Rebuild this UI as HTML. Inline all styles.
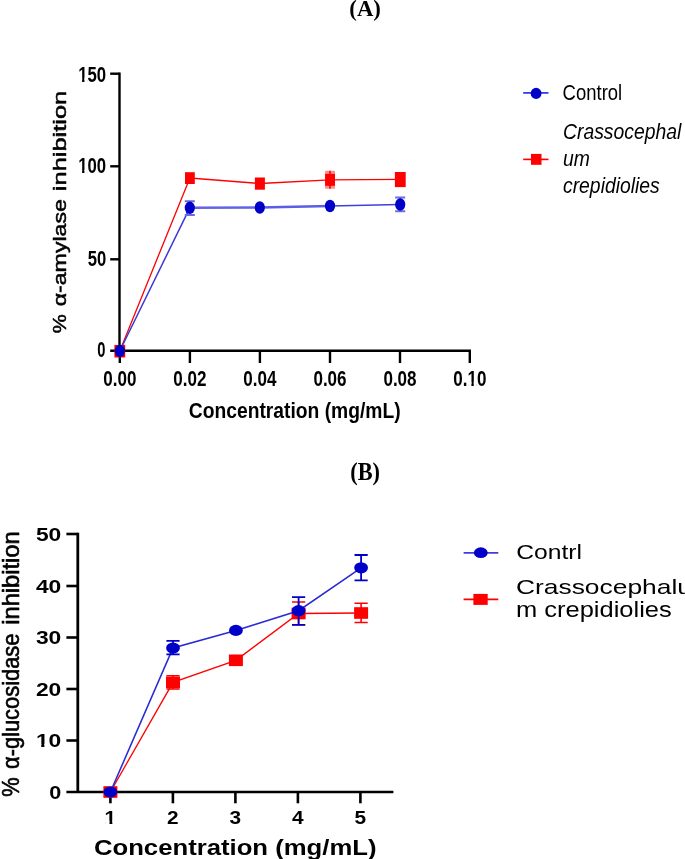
<!DOCTYPE html>
<html><head><meta charset="utf-8"><style>
html,body{margin:0;padding:0;background:#fff;}
svg{display:block;}
</style></head><body>
<svg width="685" height="859" viewBox="0 0 685 859">
<defs><filter id="bl" filterUnits="userSpaceOnUse" x="0" y="0" width="685" height="859"><feGaussianBlur stdDeviation="0.45"/></filter></defs>
<rect width="685" height="859" fill="#fff"/>
<g filter="url(#bl)">
<text transform="translate(349.30,15.90) scale(0.9694,1)" font-family="Liberation Serif" font-weight="bold" font-style="normal" font-size="23.48" fill="#000" >(A)</text>
<line x1="119.5" y1="72.5" x2="119.5" y2="352" stroke="#000" stroke-width="2.4"/>
<line x1="110.2" y1="73.7" x2="119.5" y2="73.7" stroke="#000" stroke-width="2.4"/>
<line x1="110.2" y1="166.3" x2="119.5" y2="166.3" stroke="#000" stroke-width="2.4"/>
<line x1="110.2" y1="259.3" x2="119.5" y2="259.3" stroke="#000" stroke-width="2.4"/>
<line x1="110.2" y1="350.8" x2="471" y2="350.8" stroke="#000" stroke-width="2.6"/>
<line x1="119.8" y1="350.8" x2="119.8" y2="363" stroke="#000" stroke-width="2.4"/>
<line x1="189.9" y1="350.8" x2="189.9" y2="363" stroke="#000" stroke-width="2.4"/>
<line x1="259.9" y1="350.8" x2="259.9" y2="363" stroke="#000" stroke-width="2.4"/>
<line x1="330.0" y1="350.8" x2="330.0" y2="363" stroke="#000" stroke-width="2.4"/>
<line x1="400.0" y1="350.8" x2="400.0" y2="363" stroke="#000" stroke-width="2.4"/>
<line x1="469.8" y1="350.8" x2="469.8" y2="363" stroke="#000" stroke-width="2.4"/>
<text transform="translate(78.20,81.60) scale(0.7811,1)" font-family="Liberation Sans" font-weight="bold" font-style="normal" font-size="21.49" fill="#000" >150</text><rect x="78.93" y="78.11" width="3.19" height="4.29" fill="#fff"/><rect x="84.42" y="78.11" width="2.98" height="4.29" fill="#fff"/>
<text transform="translate(78.20,173.40) scale(0.7917,1)" font-family="Liberation Sans" font-weight="bold" font-style="normal" font-size="21.20" fill="#000" >100</text><rect x="78.93" y="169.94" width="3.19" height="4.26" fill="#fff"/><rect x="84.42" y="169.94" width="2.98" height="4.26" fill="#fff"/>
<text transform="translate(87.70,265.50) scale(0.7846,1)" font-family="Liberation Sans" font-weight="bold" font-style="normal" font-size="21.20" fill="#000" >50</text>
<text transform="translate(97.30,357.40) scale(0.6956,1)" font-family="Liberation Sans" font-weight="bold" font-style="normal" font-size="21.20" fill="#000" >0</text>
<text transform="translate(103.20,385.60) scale(0.7939,1)" font-family="Liberation Sans" font-weight="bold" font-style="normal" font-size="21.49" fill="#000" >0.00</text>
<text transform="translate(173.30,385.60) scale(0.7939,1)" font-family="Liberation Sans" font-weight="bold" font-style="normal" font-size="21.49" fill="#000" >0.02</text>
<text transform="translate(243.30,385.60) scale(0.7939,1)" font-family="Liberation Sans" font-weight="bold" font-style="normal" font-size="21.49" fill="#000" >0.04</text>
<text transform="translate(313.40,385.60) scale(0.7939,1)" font-family="Liberation Sans" font-weight="bold" font-style="normal" font-size="21.49" fill="#000" >0.06</text>
<text transform="translate(383.40,385.60) scale(0.7939,1)" font-family="Liberation Sans" font-weight="bold" font-style="normal" font-size="21.49" fill="#000" >0.08</text>
<text transform="translate(453.20,385.60) scale(0.7939,1)" font-family="Liberation Sans" font-weight="bold" font-style="normal" font-size="21.49" fill="#000" >0.10</text><rect x="468.17" y="382.11" width="3.24" height="4.29" fill="#fff"/><rect x="473.75" y="382.11" width="3.02" height="4.29" fill="#fff"/>
<text transform="translate(188.80,417.70) scale(0.8510,1)" font-family="Liberation Sans" font-weight="bold" font-style="normal" font-size="22.64" fill="#000" >Concentration (mg/mL)</text>
<text transform="translate(65.65,333.25) rotate(-90) scale(1.1420,1)" font-family="Liberation Sans" font-weight="normal" font-style="normal" font-size="18.72" fill="#000" stroke="#000" stroke-width="0.5" stroke-linejoin="round">%</text>
<text transform="translate(65.65,306.35) rotate(-90) scale(1.2370,1)" font-family="Liberation Sans" font-weight="normal" font-style="normal" font-size="18.72" fill="#000" stroke="#000" stroke-width="0.5" stroke-linejoin="round">α-amylase</text>
<text transform="translate(65.65,191.15) rotate(-90) scale(1.3578,1)" font-family="Liberation Sans" font-weight="normal" font-style="normal" font-size="18.72" fill="#000" stroke="#000" stroke-width="0.5" stroke-linejoin="round">inhibition</text>
<polyline points="119.8,351 189.9,178 259.9,183.5 330,179.8 400.2,179.4" fill="none" stroke="#ff0000" stroke-width="1.3"/>
<rect x="325.1" y="170.8" width="9.9" height="17.9" fill="#ff8c8c"/>
<line x1="330" y1="170.8" x2="330" y2="188.7" stroke="#ff0000" stroke-width="1.5"/>
<rect x="114.4" y="344.9" width="10.8" height="12.6" fill="#ff0000"/>
<rect x="185" y="172.2" width="9.8" height="11.8" fill="#ff0000"/>
<rect x="254.9" y="177.5" width="10.0" height="12.2" fill="#ff0000"/>
<rect x="325.1" y="173.9" width="9.9" height="11.9" fill="#ff0000"/>
<rect x="394.9" y="172" width="10.8" height="15.1" fill="#ff0000"/>
<line x1="119.8" y1="351" x2="189.8" y2="207.8" stroke="#3a3ad6" stroke-width="1.5" stroke-linecap="round"/>
<line x1="189.8" y1="207.8" x2="259.8" y2="207.5" stroke="#6464e6" stroke-width="2.5" stroke-linecap="round"/>
<line x1="259.8" y1="207.5" x2="330" y2="206" stroke="#5c5ce4" stroke-width="2.3" stroke-linecap="round"/>
<line x1="330" y1="206" x2="400.2" y2="204.5" stroke="#4040d8" stroke-width="1.7" stroke-linecap="round"/>
<path d="M189.8,201.2V215M184.8,201.2H194.8M184.8,215H194.8" stroke="#6a6ae6" stroke-width="2" fill="none"/>
<path d="M400.2,197.6V211.2M395.2,197.6H405.2M395.2,211.2H405.2" stroke="#6a6ae6" stroke-width="2" fill="none"/>
<ellipse cx="119.8" cy="351" rx="5.1" ry="6.2" fill="#0000c8"/>
<ellipse cx="189.8" cy="207.8" rx="5.1" ry="6.2" fill="#0000c8"/>
<ellipse cx="259.8" cy="207.5" rx="5.1" ry="6.2" fill="#0000c8"/>
<ellipse cx="330" cy="206" rx="5.1" ry="6.2" fill="#0000c8"/>
<ellipse cx="400.2" cy="204.5" rx="5.1" ry="6.2" fill="#0000c8"/>
<line x1="523.2" y1="92.9" x2="548.5" y2="92.9" stroke="#3c3ce0" stroke-width="1.8"/>
<ellipse cx="536.1" cy="93.4" rx="5.4" ry="5.6" fill="#0000c8"/>
<text transform="translate(562.60,99.80) scale(0.8379,1)" font-family="Liberation Sans" font-weight="normal" font-style="normal" font-size="22.06" fill="#000" >Control</text>
<line x1="523.2" y1="159.4" x2="548.5" y2="159.4" stroke="#ff0000" stroke-width="1.6"/>
<rect x="531" y="153.9" width="10.5" height="10.9" fill="#ff0000"/>
<text transform="translate(563.00,138.80) scale(0.8498,1)" font-family="Liberation Sans" font-weight="normal" font-style="italic" font-size="22.78" fill="#000" >Crassocephal</text>
<text transform="translate(563.00,166.30) scale(0.8498,1)" font-family="Liberation Sans" font-weight="normal" font-style="italic" font-size="22.78" fill="#000" >um</text>
<text transform="translate(563.00,192.90) scale(0.8498,1)" font-family="Liberation Sans" font-weight="normal" font-style="italic" font-size="22.78" fill="#000" >crepidiolies</text>
<text transform="translate(350.20,479.50) scale(0.9209,1)" font-family="Liberation Serif" font-weight="bold" font-style="normal" font-size="24.27" fill="#000" >(B)</text>
<line x1="77.8" y1="532.8" x2="77.8" y2="792" stroke="#000" stroke-width="2.8"/>
<line x1="66.4" y1="740.5" x2="77.8" y2="740.5" stroke="#000" stroke-width="2.6"/>
<line x1="66.4" y1="689" x2="77.8" y2="689" stroke="#000" stroke-width="2.6"/>
<line x1="66.4" y1="637.5" x2="77.8" y2="637.5" stroke="#000" stroke-width="2.6"/>
<line x1="66.4" y1="586" x2="77.8" y2="586" stroke="#000" stroke-width="2.6"/>
<line x1="66.4" y1="534" x2="77.8" y2="534" stroke="#000" stroke-width="2.6"/>
<line x1="66.4" y1="792" x2="393.4" y2="792" stroke="#000" stroke-width="2.5"/>
<line x1="110.4" y1="792" x2="110.4" y2="803.3" stroke="#000" stroke-width="2.6"/>
<line x1="172.9" y1="792" x2="172.9" y2="803.3" stroke="#000" stroke-width="2.6"/>
<line x1="235.4" y1="792" x2="235.4" y2="803.3" stroke="#000" stroke-width="2.6"/>
<line x1="297.9" y1="792" x2="297.9" y2="803.3" stroke="#000" stroke-width="2.6"/>
<line x1="360.4" y1="792" x2="360.4" y2="803.3" stroke="#000" stroke-width="2.6"/>
<text transform="translate(49.30,798.50) scale(1.2248,1)" font-family="Liberation Sans" font-weight="bold" font-style="normal" font-size="17.62" fill="#000" >0</text>
<text transform="translate(35.90,747.00) scale(1.2962,1)" font-family="Liberation Sans" font-weight="bold" font-style="normal" font-size="17.62" fill="#000" >10</text><rect x="36.89" y="743.90" width="4.34" height="3.90" fill="#fff"/><rect x="44.37" y="743.90" width="4.05" height="3.90" fill="#fff"/>
<text transform="translate(35.90,695.50) scale(1.2962,1)" font-family="Liberation Sans" font-weight="bold" font-style="normal" font-size="17.62" fill="#000" >20</text>
<text transform="translate(35.90,644.00) scale(1.2962,1)" font-family="Liberation Sans" font-weight="bold" font-style="normal" font-size="17.62" fill="#000" >30</text>
<text transform="translate(35.90,592.50) scale(1.2962,1)" font-family="Liberation Sans" font-weight="bold" font-style="normal" font-size="17.62" fill="#000" >40</text>
<text transform="translate(35.90,540.50) scale(1.2962,1)" font-family="Liberation Sans" font-weight="bold" font-style="normal" font-size="17.62" fill="#000" >50</text>
<text transform="translate(104.60,824.00) scale(1.1962,1)" font-family="Liberation Sans" font-weight="bold" font-style="normal" font-size="17.44" fill="#000" >1</text><rect x="105.51" y="820.92" width="3.96" height="3.88" fill="#fff"/><rect x="112.33" y="820.92" width="3.70" height="3.88" fill="#fff"/>
<text transform="translate(167.10,824.00) scale(1.1962,1)" font-family="Liberation Sans" font-weight="bold" font-style="normal" font-size="17.44" fill="#000" >2</text>
<text transform="translate(229.60,824.00) scale(1.1962,1)" font-family="Liberation Sans" font-weight="bold" font-style="normal" font-size="17.44" fill="#000" >3</text>
<text transform="translate(292.10,824.00) scale(1.1962,1)" font-family="Liberation Sans" font-weight="bold" font-style="normal" font-size="17.44" fill="#000" >4</text>
<text transform="translate(354.60,824.00) scale(1.1962,1)" font-family="Liberation Sans" font-weight="bold" font-style="normal" font-size="17.44" fill="#000" >5</text>
<text transform="translate(93.90,854.50) scale(1.1806,1)" font-family="Liberation Sans" font-weight="bold" font-style="normal" font-size="21.78" fill="#000" >Concentration (mg/mL)</text>
<text transform="translate(18.90,796.70) rotate(-90) scale(0.9470,1)" font-family="Liberation Sans" font-weight="normal" font-style="normal" font-size="23.04" fill="#000" stroke="#000" stroke-width="0.6" stroke-linejoin="round">%</text>
<text transform="translate(18.90,769.00) rotate(-90) scale(0.9496,1)" font-family="Liberation Sans" font-weight="normal" font-style="normal" font-size="23.04" fill="#000" stroke="#000" stroke-width="0.6" stroke-linejoin="round">α-glucosidase</text>
<text transform="translate(18.90,624.70) rotate(-90) scale(1.0269,1)" font-family="Liberation Sans" font-weight="normal" font-style="normal" font-size="23.04" fill="#000" stroke="#000" stroke-width="0.6" stroke-linejoin="round">inhibition</text>
<polyline points="110.4,792 173,682.4 235.9,660.3 298.6,613.5 361.1,613" fill="none" stroke="#ff0000" stroke-width="1.35"/>
<path d="M173,675.8V689M166.4,675.8H179.6M166.4,689H179.6" stroke="#ff0000" stroke-width="1.6" fill="none"/>
<path d="M298.6,602V624.8M292.0,602H305.20000000000005M292.0,624.8H305.20000000000005" stroke="#ff0000" stroke-width="1.6" fill="none"/>
<path d="M361.1,603.3V622.5M354.5,603.3H367.70000000000005M354.5,622.5H367.70000000000005" stroke="#ff0000" stroke-width="1.6" fill="none"/>
<rect x="103.4" y="786.2" width="14" height="11.6" fill="#ff0000"/>
<rect x="166" y="676.6" width="14" height="11.6" fill="#ff0000"/>
<rect x="228.9" y="654.5" width="14" height="11.6" fill="#ff0000"/>
<rect x="291.6" y="607.7" width="14" height="11.6" fill="#ff0000"/>
<rect x="354.1" y="607.2" width="14" height="11.6" fill="#ff0000"/>
<polyline points="110.4,792 173,648 235.9,630.4 298.6,610.7 361.1,567.8" fill="none" stroke="#2c2cd4" stroke-width="1.6"/>
<path d="M173,640.8V654.3M166.4,640.8H179.6M166.4,654.3H179.6" stroke="#0000c8" stroke-width="1.8" fill="none"/>
<path d="M298.6,597.2V624.9M292.0,597.2H305.20000000000005M292.0,624.9H305.20000000000005" stroke="#0000c8" stroke-width="1.8" fill="none"/>
<path d="M361.1,555V580.3M354.5,555H367.70000000000005M354.5,580.3H367.70000000000005" stroke="#0000c8" stroke-width="1.8" fill="none"/>
<ellipse cx="110.4" cy="792" rx="6.9" ry="5.6" fill="#0000c8"/>
<ellipse cx="173" cy="648" rx="6.9" ry="5.6" fill="#0000c8"/>
<ellipse cx="235.9" cy="630.4" rx="6.9" ry="5.6" fill="#0000c8"/>
<ellipse cx="298.6" cy="610.7" rx="6.9" ry="5.6" fill="#0000c8"/>
<ellipse cx="361.1" cy="567.8" rx="6.9" ry="5.6" fill="#0000c8"/>
<line x1="463.6" y1="552.8" x2="498.3" y2="552.8" stroke="#3c3ce0" stroke-width="1.8"/>
<ellipse cx="480.8" cy="552.7" rx="6.9" ry="5.4" fill="#0000c8"/>
<text transform="translate(516.30,558.90) scale(1.1711,1)" font-family="Liberation Sans" font-weight="normal" font-style="normal" font-size="21.06" fill="#000" >Contrl</text>
<line x1="463.6" y1="599.4" x2="498.3" y2="599.4" stroke="#ff0000" stroke-width="1.6"/>
<rect x="473.4" y="593.9" width="14.3" height="11" fill="#ff0000"/>
<text transform="translate(516.00,593.60) scale(1.2790,1)" font-family="Liberation Sans" font-weight="normal" font-style="normal" font-size="20.63" fill="#000" >Crassocephalu</text>
<text transform="translate(516.00,617.30) scale(1.1336,1)" font-family="Liberation Sans" font-weight="normal" font-style="normal" font-size="22.48" fill="#000" >m crepidiolies</text>
</g>
</svg>
</body></html>
